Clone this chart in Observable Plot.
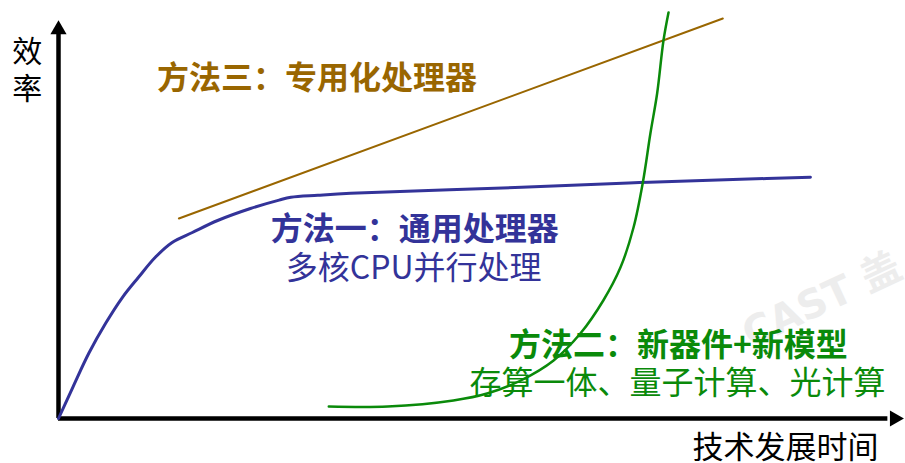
<!DOCTYPE html>
<html>
<head>
<meta charset="utf-8">
<script src="https://cdn.jsdelivr.net/npm/d3@7"></script>
<script src="https://cdn.jsdelivr.net/npm/@observablehq/plot@0.6"></script>
<style>
  html, body { margin: 0; padding: 0; background: #fff; }
  svg { display: block; }
</style>
</head>
<body>
<div id="chart"></div>
<script>
// Method 1: general-purpose processors (blue curve)
const blueX = [0, 1.7, 3.6, 5.6, 7.6, 9.5, 11.5, 13.5, 15.9, 18.9, 22.8, 26.2, 27.6, 30.8, 34.7, 55, 69, 81, 89.3];
const blueY = [0, 7.8, 16.3, 23.8, 30.3, 35.3, 40.3, 44, 46.5, 49.5, 52.5, 54.6, 55.3, 55.8, 56.3, 57.8, 59, 59.8, 60.3];
// Method 3: specialized processors (brown straight line)
const brownX = [14.3, 78.9];
const brownY = [50, 100];
// Method 2: new devices + new models (green curve)
const greenX = [32.1, 39.1, 46.9, 51, 54.9, 58.8, 62, 64.7, 66.75, 68.3, 69.4, 70.3, 71.1, 71.85, 72.45];
const greenY = [3, 3, 4.5, 6.3, 9.5, 14.5, 21.3, 29.5, 37.8, 47.8, 59, 71.3, 81.3, 94.5, 101.5];

const yAxisLabel = "效\n率";
const xAxisLabel = "技术发展时间";
const title3 = "方法三：专用化处理器";
const title1 = "方法一：通用处理器";
const sub1 = "多核CPU并行处理";
const title2 = "方法二：新器件+新模型";
const sub2 = "存算一体、量子计算、光计算";
const watermark = "CAST 盖";

const BROWN = "#996600", BLUE = "#333399", GREEN = "#0a8a0a";
const FONT = "'Noto Sans CJK SC', 'Noto Sans', sans-serif";

const blue = blueX.map((x, i) => ({x, y: blueY[i]}));
const brown = brownX.map((x, i) => ({x, y: brownY[i]}));
const green = greenX.map((x, i) => ({x, y: greenY[i]}));

const chart = Plot.plot({
  width: 905,
  height: 463,
  marginTop: 0, marginRight: 0, marginBottom: 0, marginLeft: 0,
  x: {domain: [0, 100], range: [58, 900], axis: null},
  y: {domain: [0, 100], range: [418, 18], axis: null},
  style: {fontFamily: FONT, background: "#fff", overflow: "hidden"},
  marks: [
    Plot.text([watermark], {x: 90.7, y: 29.5, text: d => d, rotate: -25, fontSize: 40, fontWeight: "bold", fill: "#ededed", fontFamily: "'DejaVu Sans', 'Noto Sans CJK SC', sans-serif"}),
    // axes
    Plot.ruleX([0], {y1: 0, y2: 96.5, stroke: "#000", strokeWidth: 4.5}),
    Plot.ruleY([0], {x1: 0, x2: 98.5, stroke: "#000", strokeWidth: 4.5}),
    Plot.dot([{x: 0, y: 97.2}], {x: "x", y: "y", symbol: "triangle", r: 6, fill: "#000", stroke: null}),
    Plot.dot([{x: 99.3, y: 0}], {x: "x", y: "y", symbol: "triangle", r: 6, fill: "#000", stroke: null, rotate: 90}),
    // series
    Plot.line(brown, {x: "x", y: "y", stroke: BROWN, strokeWidth: 2}),
    Plot.line(blue, {x: "x", y: "y", stroke: BLUE, strokeWidth: 3, curve: "catmull-rom"}),
    Plot.line(green, {x: "x", y: "y", stroke: GREEN, strokeWidth: 2.5, curve: "catmull-rom"}),
    // labels
    Plot.text([yAxisLabel], {x: -3.7, y: 87.5, text: d => d, fontSize: 30, lineHeight: 1.22, fill: "#000", textAnchor: "middle"}),
    Plot.text([xAxisLabel], {x: 75.3, y: -7.3, text: d => d, fontSize: 31, fill: "#000", textAnchor: "start"}),
    Plot.text([title3], {x: 11.7, y: 85, text: d => d, fontSize: 32, fontWeight: "bold", fill: BROWN, textAnchor: "start"}),
    Plot.text([title1], {x: 25.2, y: 47.3, text: d => d, fontSize: 32, fontWeight: "bold", fill: BLUE, textAnchor: "start"}),
    Plot.text([sub1], {x: 27.0, y: 37.5, text: d => d, fontSize: 32, fill: BLUE, textAnchor: "start"}),
    Plot.text([title2], {x: 53.5, y: 18.3, text: d => d, fontSize: 32, fontWeight: "bold", fill: GREEN, textAnchor: "start"}),
    Plot.text([sub2], {x: 48.8, y: 8.8, text: d => d, fontSize: 32, fill: GREEN, textAnchor: "start"})
  ]
});
document.getElementById("chart").appendChild(chart);
</script>
</body>
</html>
